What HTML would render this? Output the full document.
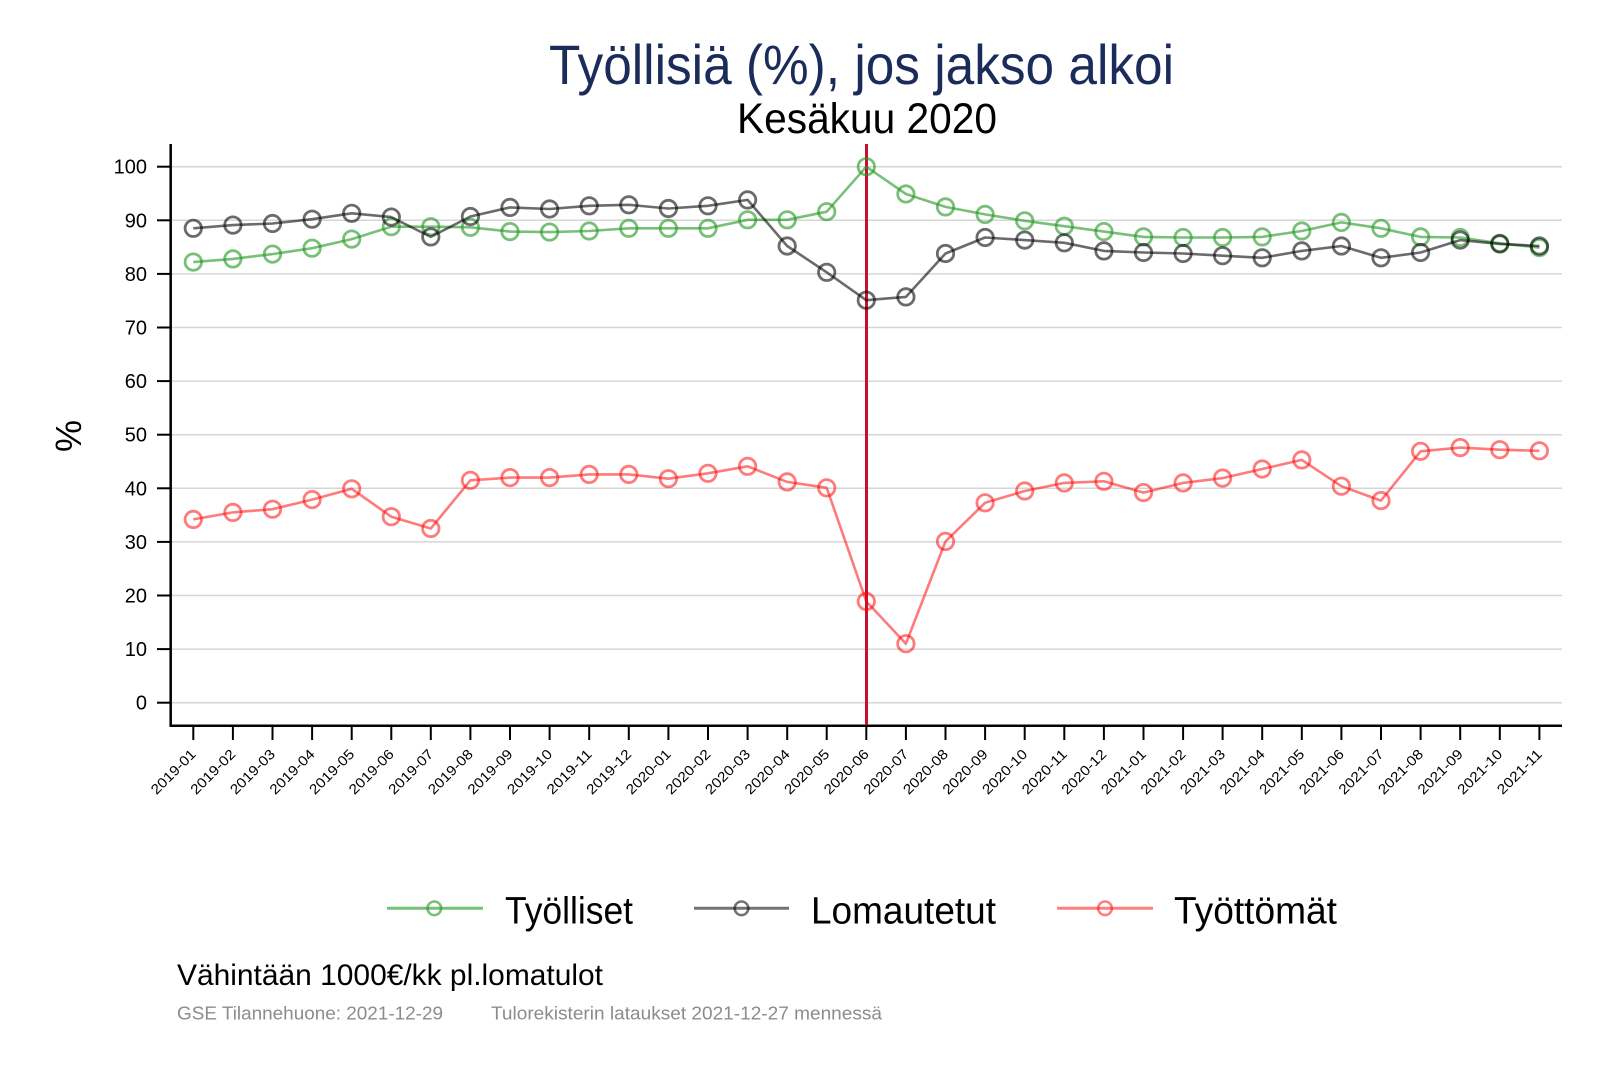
<!DOCTYPE html>
<html><head><meta charset="utf-8"><style>
html,body{margin:0;padding:0;background:#fff;}
svg{display:block;font-family:"Liberation Sans",Arial,sans-serif;}
</style></head><body>
<svg width="1600" height="1067" viewBox="0 0 1600 1067" xmlns="http://www.w3.org/2000/svg">
<rect width="1600" height="1067" fill="#fff"/>
<!-- titles -->
<text x="549" y="84" font-size="56" fill="#1b2b5a" textLength="625" lengthAdjust="spacingAndGlyphs">Työllisiä (%), jos jakso alkoi</text>
<text x="737" y="133" font-size="43" fill="#000" textLength="260" lengthAdjust="spacingAndGlyphs">Kesäkuu 2020</text>
<!-- gridlines -->
<g stroke="#d6d6d6" stroke-width="1.5">
<line x1="171" x2="1562" y1="166.7" y2="166.7"/>
<line x1="171" x2="1562" y1="220.3" y2="220.3"/>
<line x1="171" x2="1562" y1="273.9" y2="273.9"/>
<line x1="171" x2="1562" y1="327.5" y2="327.5"/>
<line x1="171" x2="1562" y1="381.1" y2="381.1"/>
<line x1="171" x2="1562" y1="434.7" y2="434.7"/>
<line x1="171" x2="1562" y1="488.3" y2="488.3"/>
<line x1="171" x2="1562" y1="541.9" y2="541.9"/>
<line x1="171" x2="1562" y1="595.5" y2="595.5"/>
<line x1="171" x2="1562" y1="649.1" y2="649.1"/>
<line x1="171" x2="1562" y1="702.7" y2="702.7"/>
</g>
<!-- y ticks -->
<g stroke="#000" stroke-width="2">
<line x1="157" x2="171" y1="166.7" y2="166.7"/>
<line x1="157" x2="171" y1="220.3" y2="220.3"/>
<line x1="157" x2="171" y1="273.9" y2="273.9"/>
<line x1="157" x2="171" y1="327.5" y2="327.5"/>
<line x1="157" x2="171" y1="381.1" y2="381.1"/>
<line x1="157" x2="171" y1="434.7" y2="434.7"/>
<line x1="157" x2="171" y1="488.3" y2="488.3"/>
<line x1="157" x2="171" y1="541.9" y2="541.9"/>
<line x1="157" x2="171" y1="595.5" y2="595.5"/>
<line x1="157" x2="171" y1="649.1" y2="649.1"/>
<line x1="157" x2="171" y1="702.7" y2="702.7"/>
</g>
<g font-size="20" text-anchor="end" fill="#000">
<text x="147" y="173.7">100</text>
<text x="147" y="227.3">90</text>
<text x="147" y="280.9">80</text>
<text x="147" y="334.5">70</text>
<text x="147" y="388.1">60</text>
<text x="147" y="441.7">50</text>
<text x="147" y="495.3">40</text>
<text x="147" y="548.9">30</text>
<text x="147" y="602.5">20</text>
<text x="147" y="656.1">10</text>
<text x="147" y="709.7">0</text>
</g>
<text transform="translate(81,436) rotate(-90)" font-size="36" text-anchor="middle" fill="#000">%</text>
<!-- x ticks -->
<g stroke="#000" stroke-width="2">
<line x1="193.3" x2="193.3" y1="726" y2="740"/><line x1="232.9" x2="232.9" y1="726" y2="740"/><line x1="272.5" x2="272.5" y1="726" y2="740"/><line x1="312.1" x2="312.1" y1="726" y2="740"/><line x1="351.7" x2="351.7" y1="726" y2="740"/><line x1="391.3" x2="391.3" y1="726" y2="740"/><line x1="430.8" x2="430.8" y1="726" y2="740"/><line x1="470.4" x2="470.4" y1="726" y2="740"/><line x1="510" x2="510" y1="726" y2="740"/><line x1="549.6" x2="549.6" y1="726" y2="740"/><line x1="589.2" x2="589.2" y1="726" y2="740"/><line x1="628.8" x2="628.8" y1="726" y2="740"/><line x1="668.4" x2="668.4" y1="726" y2="740"/><line x1="708" x2="708" y1="726" y2="740"/><line x1="747.6" x2="747.6" y1="726" y2="740"/><line x1="787.2" x2="787.2" y1="726" y2="740"/><line x1="826.7" x2="826.7" y1="726" y2="740"/><line x1="866.3" x2="866.3" y1="726" y2="740"/><line x1="905.9" x2="905.9" y1="726" y2="740"/><line x1="945.5" x2="945.5" y1="726" y2="740"/><line x1="985.1" x2="985.1" y1="726" y2="740"/><line x1="1024.7" x2="1024.7" y1="726" y2="740"/><line x1="1064.3" x2="1064.3" y1="726" y2="740"/><line x1="1103.9" x2="1103.9" y1="726" y2="740"/><line x1="1143.5" x2="1143.5" y1="726" y2="740"/><line x1="1183.1" x2="1183.1" y1="726" y2="740"/><line x1="1222.6" x2="1222.6" y1="726" y2="740"/><line x1="1262.2" x2="1262.2" y1="726" y2="740"/><line x1="1301.8" x2="1301.8" y1="726" y2="740"/><line x1="1341.4" x2="1341.4" y1="726" y2="740"/><line x1="1381" x2="1381" y1="726" y2="740"/><line x1="1420.6" x2="1420.6" y1="726" y2="740"/><line x1="1460.2" x2="1460.2" y1="726" y2="740"/><line x1="1499.8" x2="1499.8" y1="726" y2="740"/><line x1="1539.4" x2="1539.4" y1="726" y2="740"/>
</g>
<g font-size="14" text-anchor="end" fill="#000">
<text transform="translate(196.8,755) rotate(-45)" textLength="57" lengthAdjust="spacingAndGlyphs">2019-01</text>
<text transform="translate(236.4,755) rotate(-45)" textLength="57" lengthAdjust="spacingAndGlyphs">2019-02</text>
<text transform="translate(276,755) rotate(-45)" textLength="57" lengthAdjust="spacingAndGlyphs">2019-03</text>
<text transform="translate(315.6,755) rotate(-45)" textLength="57" lengthAdjust="spacingAndGlyphs">2019-04</text>
<text transform="translate(355.2,755) rotate(-45)" textLength="57" lengthAdjust="spacingAndGlyphs">2019-05</text>
<text transform="translate(394.8,755) rotate(-45)" textLength="57" lengthAdjust="spacingAndGlyphs">2019-06</text>
<text transform="translate(434.3,755) rotate(-45)" textLength="57" lengthAdjust="spacingAndGlyphs">2019-07</text>
<text transform="translate(473.9,755) rotate(-45)" textLength="57" lengthAdjust="spacingAndGlyphs">2019-08</text>
<text transform="translate(513.5,755) rotate(-45)" textLength="57" lengthAdjust="spacingAndGlyphs">2019-09</text>
<text transform="translate(553.1,755) rotate(-45)" textLength="57" lengthAdjust="spacingAndGlyphs">2019-10</text>
<text transform="translate(592.7,755) rotate(-45)" textLength="57" lengthAdjust="spacingAndGlyphs">2019-11</text>
<text transform="translate(632.3,755) rotate(-45)" textLength="57" lengthAdjust="spacingAndGlyphs">2019-12</text>
<text transform="translate(671.9,755) rotate(-45)" textLength="57" lengthAdjust="spacingAndGlyphs">2020-01</text>
<text transform="translate(711.5,755) rotate(-45)" textLength="57" lengthAdjust="spacingAndGlyphs">2020-02</text>
<text transform="translate(751.1,755) rotate(-45)" textLength="57" lengthAdjust="spacingAndGlyphs">2020-03</text>
<text transform="translate(790.7,755) rotate(-45)" textLength="57" lengthAdjust="spacingAndGlyphs">2020-04</text>
<text transform="translate(830.2,755) rotate(-45)" textLength="57" lengthAdjust="spacingAndGlyphs">2020-05</text>
<text transform="translate(869.8,755) rotate(-45)" textLength="57" lengthAdjust="spacingAndGlyphs">2020-06</text>
<text transform="translate(909.4,755) rotate(-45)" textLength="57" lengthAdjust="spacingAndGlyphs">2020-07</text>
<text transform="translate(949,755) rotate(-45)" textLength="57" lengthAdjust="spacingAndGlyphs">2020-08</text>
<text transform="translate(988.6,755) rotate(-45)" textLength="57" lengthAdjust="spacingAndGlyphs">2020-09</text>
<text transform="translate(1028.2,755) rotate(-45)" textLength="57" lengthAdjust="spacingAndGlyphs">2020-10</text>
<text transform="translate(1067.8,755) rotate(-45)" textLength="57" lengthAdjust="spacingAndGlyphs">2020-11</text>
<text transform="translate(1107.4,755) rotate(-45)" textLength="57" lengthAdjust="spacingAndGlyphs">2020-12</text>
<text transform="translate(1147,755) rotate(-45)" textLength="57" lengthAdjust="spacingAndGlyphs">2021-01</text>
<text transform="translate(1186.6,755) rotate(-45)" textLength="57" lengthAdjust="spacingAndGlyphs">2021-02</text>
<text transform="translate(1226.1,755) rotate(-45)" textLength="57" lengthAdjust="spacingAndGlyphs">2021-03</text>
<text transform="translate(1265.7,755) rotate(-45)" textLength="57" lengthAdjust="spacingAndGlyphs">2021-04</text>
<text transform="translate(1305.3,755) rotate(-45)" textLength="57" lengthAdjust="spacingAndGlyphs">2021-05</text>
<text transform="translate(1344.9,755) rotate(-45)" textLength="57" lengthAdjust="spacingAndGlyphs">2021-06</text>
<text transform="translate(1384.5,755) rotate(-45)" textLength="57" lengthAdjust="spacingAndGlyphs">2021-07</text>
<text transform="translate(1424.1,755) rotate(-45)" textLength="57" lengthAdjust="spacingAndGlyphs">2021-08</text>
<text transform="translate(1463.7,755) rotate(-45)" textLength="57" lengthAdjust="spacingAndGlyphs">2021-09</text>
<text transform="translate(1503.3,755) rotate(-45)" textLength="57" lengthAdjust="spacingAndGlyphs">2021-10</text>
<text transform="translate(1542.9,755) rotate(-45)" textLength="57" lengthAdjust="spacingAndGlyphs">2021-11</text>
</g>
<!-- axes -->
<line x1="170.7" x2="170.7" y1="144" y2="727" stroke="#000" stroke-width="2.5"/>
<line x1="169.5" x2="1562" y1="725.8" y2="725.8" stroke="#000" stroke-width="2.5"/>
<!-- vertical marker line -->
<line x1="866.5" x2="866.5" y1="144" y2="725" stroke="#c8102e" stroke-width="3"/>
<!-- green series -->
<g stroke="rgb(30,150,30)" stroke-opacity="0.6" fill="none">
<polyline stroke-width="2.6" stroke-linejoin="round" points="193.3,262.1 232.9,258.9 272.5,254.1 312.1,248.2 351.7,239.1 391.3,226.7 430.8,226.7 470.4,227.3 510,231.6 549.6,232.1 589.2,231 628.8,228.3 668.4,228.3 708,228.3 747.6,219.8 787.2,219.8 826.7,211.7 866.3,166.7 905.9,194 945.5,206.9 985.1,214.4 1024.7,220.8 1064.3,226.2 1103.9,231.6 1143.5,236.9 1183.1,237.5 1222.6,237.5 1262.2,236.9 1301.8,231 1341.4,222.4 1381,228.3 1420.6,236.9 1460.2,237.5 1499.8,243.3 1539.4,247.6"/>
<g stroke-width="2.8">
<circle cx="193.3" cy="262.1" r="8.2"/><circle cx="232.9" cy="258.9" r="8.2"/><circle cx="272.5" cy="254.1" r="8.2"/><circle cx="312.1" cy="248.2" r="8.2"/><circle cx="351.7" cy="239.1" r="8.2"/><circle cx="391.3" cy="226.7" r="8.2"/><circle cx="430.8" cy="226.7" r="8.2"/><circle cx="470.4" cy="227.3" r="8.2"/><circle cx="510" cy="231.6" r="8.2"/><circle cx="549.6" cy="232.1" r="8.2"/><circle cx="589.2" cy="231" r="8.2"/><circle cx="628.8" cy="228.3" r="8.2"/><circle cx="668.4" cy="228.3" r="8.2"/><circle cx="708" cy="228.3" r="8.2"/><circle cx="747.6" cy="219.8" r="8.2"/><circle cx="787.2" cy="219.8" r="8.2"/><circle cx="826.7" cy="211.7" r="8.2"/><circle cx="866.3" cy="166.7" r="8.2"/><circle cx="905.9" cy="194" r="8.2"/><circle cx="945.5" cy="206.9" r="8.2"/><circle cx="985.1" cy="214.4" r="8.2"/><circle cx="1024.7" cy="220.8" r="8.2"/><circle cx="1064.3" cy="226.2" r="8.2"/><circle cx="1103.9" cy="231.6" r="8.2"/><circle cx="1143.5" cy="236.9" r="8.2"/><circle cx="1183.1" cy="237.5" r="8.2"/><circle cx="1222.6" cy="237.5" r="8.2"/><circle cx="1262.2" cy="236.9" r="8.2"/><circle cx="1301.8" cy="231" r="8.2"/><circle cx="1341.4" cy="222.4" r="8.2"/><circle cx="1381" cy="228.3" r="8.2"/><circle cx="1420.6" cy="236.9" r="8.2"/><circle cx="1460.2" cy="237.5" r="8.2"/><circle cx="1499.8" cy="243.3" r="8.2"/><circle cx="1539.4" cy="247.6" r="8.2"/>
</g></g>
<!-- gray series -->
<g stroke="#000" stroke-opacity="0.58" fill="none">
<polyline stroke-width="2.6" stroke-linejoin="round" points="193.3,228.3 232.9,225.1 272.5,223.5 312.1,219.2 351.7,213.3 391.3,217.1 430.8,236.9 470.4,216.5 510,207.4 549.6,209 589.2,205.8 628.8,204.8 668.4,208.5 708,205.8 747.6,199.9 787.2,246 826.7,272.3 866.3,300.2 905.9,296.9 945.5,253.5 985.1,237.5 1024.7,240.1 1064.3,242.8 1103.9,250.9 1143.5,252.5 1183.1,253.5 1222.6,255.7 1262.2,257.8 1301.8,250.9 1341.4,246 1381,257.8 1420.6,252.5 1460.2,240.1 1499.8,243.9 1539.4,246"/>
<g stroke-width="2.8">
<circle cx="193.3" cy="228.3" r="8.2"/><circle cx="232.9" cy="225.1" r="8.2"/><circle cx="272.5" cy="223.5" r="8.2"/><circle cx="312.1" cy="219.2" r="8.2"/><circle cx="351.7" cy="213.3" r="8.2"/><circle cx="391.3" cy="217.1" r="8.2"/><circle cx="430.8" cy="236.9" r="8.2"/><circle cx="470.4" cy="216.5" r="8.2"/><circle cx="510" cy="207.4" r="8.2"/><circle cx="549.6" cy="209" r="8.2"/><circle cx="589.2" cy="205.8" r="8.2"/><circle cx="628.8" cy="204.8" r="8.2"/><circle cx="668.4" cy="208.5" r="8.2"/><circle cx="708" cy="205.8" r="8.2"/><circle cx="747.6" cy="199.9" r="8.2"/><circle cx="787.2" cy="246" r="8.2"/><circle cx="826.7" cy="272.3" r="8.2"/><circle cx="866.3" cy="300.2" r="8.2"/><circle cx="905.9" cy="296.9" r="8.2"/><circle cx="945.5" cy="253.5" r="8.2"/><circle cx="985.1" cy="237.5" r="8.2"/><circle cx="1024.7" cy="240.1" r="8.2"/><circle cx="1064.3" cy="242.8" r="8.2"/><circle cx="1103.9" cy="250.9" r="8.2"/><circle cx="1143.5" cy="252.5" r="8.2"/><circle cx="1183.1" cy="253.5" r="8.2"/><circle cx="1222.6" cy="255.7" r="8.2"/><circle cx="1262.2" cy="257.8" r="8.2"/><circle cx="1301.8" cy="250.9" r="8.2"/><circle cx="1341.4" cy="246" r="8.2"/><circle cx="1381" cy="257.8" r="8.2"/><circle cx="1420.6" cy="252.5" r="8.2"/><circle cx="1460.2" cy="240.1" r="8.2"/><circle cx="1499.8" cy="243.9" r="8.2"/><circle cx="1539.4" cy="246" r="8.2"/>
</g></g>
<!-- red series -->
<g stroke="#ff0000" stroke-opacity="0.52" fill="none">
<polyline stroke-width="2.6" stroke-linejoin="round" points="193.3,519.4 232.9,512.4 272.5,509.2 312.1,499.6 351.7,488.8 391.3,516.7 430.8,528.5 470.4,480.3 510,477.6 549.6,477.6 589.2,474.4 628.8,474.4 668.4,478.7 708,473.3 747.6,466.3 787.2,481.9 826.7,487.8 866.3,601.4 905.9,643.7 945.5,541.4 985.1,502.8 1024.7,491 1064.3,482.9 1103.9,481.3 1143.5,492.6 1183.1,482.9 1222.6,478.1 1262.2,469 1301.8,459.9 1341.4,486.2 1381,500.6 1420.6,451.3 1460.2,447.6 1499.8,449.7 1539.4,450.8"/>
<g stroke-width="2.8">
<circle cx="193.3" cy="519.4" r="8.2"/><circle cx="232.9" cy="512.4" r="8.2"/><circle cx="272.5" cy="509.2" r="8.2"/><circle cx="312.1" cy="499.6" r="8.2"/><circle cx="351.7" cy="488.8" r="8.2"/><circle cx="391.3" cy="516.7" r="8.2"/><circle cx="430.8" cy="528.5" r="8.2"/><circle cx="470.4" cy="480.3" r="8.2"/><circle cx="510" cy="477.6" r="8.2"/><circle cx="549.6" cy="477.6" r="8.2"/><circle cx="589.2" cy="474.4" r="8.2"/><circle cx="628.8" cy="474.4" r="8.2"/><circle cx="668.4" cy="478.7" r="8.2"/><circle cx="708" cy="473.3" r="8.2"/><circle cx="747.6" cy="466.3" r="8.2"/><circle cx="787.2" cy="481.9" r="8.2"/><circle cx="826.7" cy="487.8" r="8.2"/><circle cx="866.3" cy="601.4" r="8.2"/><circle cx="905.9" cy="643.7" r="8.2"/><circle cx="945.5" cy="541.4" r="8.2"/><circle cx="985.1" cy="502.8" r="8.2"/><circle cx="1024.7" cy="491" r="8.2"/><circle cx="1064.3" cy="482.9" r="8.2"/><circle cx="1103.9" cy="481.3" r="8.2"/><circle cx="1143.5" cy="492.6" r="8.2"/><circle cx="1183.1" cy="482.9" r="8.2"/><circle cx="1222.6" cy="478.1" r="8.2"/><circle cx="1262.2" cy="469" r="8.2"/><circle cx="1301.8" cy="459.9" r="8.2"/><circle cx="1341.4" cy="486.2" r="8.2"/><circle cx="1381" cy="500.6" r="8.2"/><circle cx="1420.6" cy="451.3" r="8.2"/><circle cx="1460.2" cy="447.6" r="8.2"/><circle cx="1499.8" cy="449.7" r="8.2"/><circle cx="1539.4" cy="450.8" r="8.2"/>
</g></g>
<!-- legend -->
<g fill="none" stroke-width="3">
<line x1="387" x2="483" y1="908.3" y2="908.3" stroke="rgb(30,150,30)" stroke-opacity="0.6"/>
<circle cx="434.3" cy="908.3" r="6.8" stroke="rgb(30,150,30)" stroke-opacity="0.6" stroke-width="2.6"/>
<line x1="694" x2="789" y1="908.3" y2="908.3" stroke="#000" stroke-opacity="0.55"/>
<circle cx="741.5" cy="908.3" r="6.8" stroke="#000" stroke-opacity="0.55" stroke-width="2.6"/>
<line x1="1057" x2="1153" y1="908.3" y2="908.3" stroke="#ff0000" stroke-opacity="0.5"/>
<circle cx="1105" cy="908.3" r="6.8" stroke="#ff0000" stroke-opacity="0.5" stroke-width="2.6"/>
</g>
<g font-size="38" fill="#000">
<text x="505" y="923.3" textLength="128" lengthAdjust="spacingAndGlyphs">Työlliset</text>
<text x="811" y="923.3" textLength="185" lengthAdjust="spacingAndGlyphs">Lomautetut</text>
<text x="1174" y="923.3" textLength="163" lengthAdjust="spacingAndGlyphs">Työttömät</text>
</g>
<!-- footer -->
<text x="177" y="985" font-size="30" fill="#000" textLength="426" lengthAdjust="spacingAndGlyphs">Vähintään 1000€/kk pl.lomatulot</text>
<text x="177" y="1019.3" font-size="18" fill="#8c8c8c" textLength="266" lengthAdjust="spacingAndGlyphs">GSE Tilannehuone: 2021-12-29</text>
<text x="491" y="1019.3" font-size="18" fill="#8c8c8c" textLength="391" lengthAdjust="spacingAndGlyphs">Tulorekisterin lataukset 2021-12-27 mennessä</text>
</svg>
</body></html>
